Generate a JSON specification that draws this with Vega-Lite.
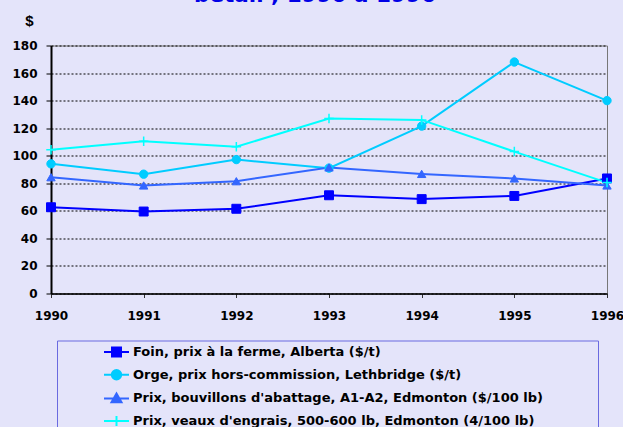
{
  "$schema": "https://vega.github.io/schema/vega-lite/v6.json",
  "width": 556,
  "height": 248,
  "autosize": {"type": "none"},
  "padding": {"left": 51, "top": 45.5, "right": 16, "bottom": 133.5},
  "background": "#E4E4FA",
  "title": {
    "text": "bétail , 1990 à 1996",
    "font": "DejaVu Sans",
    "fontSize": 21.5,
    "fontWeight": "bold",
    "color": "#0000E6",
    "anchor": "middle",
    "frame": "group",
    "dx": -14,
    "offset": 7
  },
  "config": {
    "view": {"stroke": "#777777", "strokeWidth": 1},
    "legend": {
      "orient": "none",
      "legendX": 6,
      "legendY": 295,
      "labelFont": "DejaVu Sans",
      "labelFontWeight": "bold",
      "labelFontSize": 13,
      "labelColor": "#000000",
      "labelLimit": 1000,
      "symbolSize": 100,
      "symbolOffset": 48,
      "labelOffset": 10,
      "padding": 5,
      "rowPadding": 4.7,
      "strokeColor": "#6A6AE0",
      "fillColor": "#E4E4FA"
    }
  },
  "data": {
    "values": [
      {"year": 1990, "series": "Foin, prix à la ferme, Alberta ($/t)", "value": 62.6},
      {"year": 1991, "series": "Foin, prix à la ferme, Alberta ($/t)", "value": 59.5},
      {"year": 1992, "series": "Foin, prix à la ferme, Alberta ($/t)", "value": 61.5},
      {"year": 1993, "series": "Foin, prix à la ferme, Alberta ($/t)", "value": 71.3},
      {"year": 1994, "series": "Foin, prix à la ferme, Alberta ($/t)", "value": 68.5},
      {"year": 1995, "series": "Foin, prix à la ferme, Alberta ($/t)", "value": 70.8},
      {"year": 1996, "series": "Foin, prix à la ferme, Alberta ($/t)", "value": 83.5},
      {"year": 1990, "series": "Orge, prix hors-commission, Lethbridge ($/t)", "value": 94.1},
      {"year": 1991, "series": "Orge, prix hors-commission, Lethbridge ($/t)", "value": 86.6},
      {"year": 1992, "series": "Orge, prix hors-commission, Lethbridge ($/t)", "value": 97.2},
      {"year": 1993, "series": "Orge, prix hors-commission, Lethbridge ($/t)", "value": 91},
      {"year": 1994, "series": "Orge, prix hors-commission, Lethbridge ($/t)", "value": 121.5},
      {"year": 1995, "series": "Orge, prix hors-commission, Lethbridge ($/t)", "value": 168},
      {"year": 1996, "series": "Orge, prix hors-commission, Lethbridge ($/t)", "value": 140},
      {"year": 1990, "series": "Prix, bouvillons d'abattage, A1-A2, Edmonton ($/100 lb)", "value": 84.4},
      {"year": 1991, "series": "Prix, bouvillons d'abattage, A1-A2, Edmonton ($/100 lb)", "value": 78.4},
      {"year": 1992, "series": "Prix, bouvillons d'abattage, A1-A2, Edmonton ($/100 lb)", "value": 81.5},
      {"year": 1993, "series": "Prix, bouvillons d'abattage, A1-A2, Edmonton ($/100 lb)", "value": 91.5},
      {"year": 1994, "series": "Prix, bouvillons d'abattage, A1-A2, Edmonton ($/100 lb)", "value": 86.8},
      {"year": 1995, "series": "Prix, bouvillons d'abattage, A1-A2, Edmonton ($/100 lb)", "value": 83.5},
      {"year": 1996, "series": "Prix, bouvillons d'abattage, A1-A2, Edmonton ($/100 lb)", "value": 78.4},
      {"year": 1990, "series": "Prix, veaux d'engrais, 500-600 lb, Edmonton (4/100 lb)", "value": 104.3},
      {"year": 1991, "series": "Prix, veaux d'engrais, 500-600 lb, Edmonton (4/100 lb)", "value": 110.5},
      {"year": 1992, "series": "Prix, veaux d'engrais, 500-600 lb, Edmonton (4/100 lb)", "value": 106.5},
      {"year": 1993, "series": "Prix, veaux d'engrais, 500-600 lb, Edmonton (4/100 lb)", "value": 127},
      {"year": 1994, "series": "Prix, veaux d'engrais, 500-600 lb, Edmonton (4/100 lb)", "value": 126},
      {"year": 1995, "series": "Prix, veaux d'engrais, 500-600 lb, Edmonton (4/100 lb)", "value": 103},
      {"year": 1996, "series": "Prix, veaux d'engrais, 500-600 lb, Edmonton (4/100 lb)", "value": 80.5}
    ]
  },
  "encoding": {
    "x": {
      "field": "year",
      "type": "quantitative",
      "scale": {"domain": [1990, 1996], "nice": false, "zero": false},
      "axis": {
        "title": null,
        "values": [1990, 1991, 1992, 1993, 1994, 1995, 1996],
        "format": "d",
        "grid": false,
        "domainColor": "#000000",
        "domainWidth": 1.5,
        "tickColor": "#333333",
        "tickSize": 4,
        "labelFont": "DejaVu Sans",
        "labelFontWeight": "bold",
        "labelFontSize": 12,
        "labelColor": "#000000",
        "labelPadding": 13,
        "labelFlush": false,
        "labelOverlap": false
      }
    },
    "y": {
      "field": "value",
      "type": "quantitative",
      "scale": {"domain": [0, 180], "nice": false},
      "axis": {
        "title": "$",
        "titleAngle": 0,
        "titleX": -22,
        "titleY": -25.5,
        "titleAlign": "center",
        "titleBaseline": "middle",
        "titleFont": "Liberation Sans",
        "titleFontSize": 15,
        "titleFontWeight": "bold",
        "titleColor": "#000000",
        "values": [0, 20, 40, 60, 80, 100, 120, 140, 160, 180],
        "grid": true,
        "gridColor": "#000000",
        "gridDash": [2, 2],
        "gridWidth": 1,
        "domainColor": "#000000",
        "domainWidth": 2,
        "tickColor": "#000000",
        "tickSize": 5,
        "labelFont": "DejaVu Sans",
        "labelFontWeight": "bold",
        "labelFontSize": 12,
        "labelColor": "#000000",
        "labelPadding": 9
      }
    }
  },
  "layer": [
    {
      "mark": {"type": "line", "strokeWidth": 2},
      "encoding": {
        "color": {
          "field": "series",
          "type": "nominal",
          "scale": {
            "domain": [
              "Foin, prix à la ferme, Alberta ($/t)",
              "Orge, prix hors-commission, Lethbridge ($/t)",
              "Prix, bouvillons d'abattage, A1-A2, Edmonton ($/100 lb)",
              "Prix, veaux d'engrais, 500-600 lb, Edmonton (4/100 lb)"
            ],
            "range": ["#0000FF", "#00CCFF", "#3366FF", "#00FFFF"]
          },
          "legend": {
            "title": null,
            "encode": {
              "symbols": {
                "update": {
                  "fill": {"scale": "color", "field": "value"},
                  "stroke": {"scale": "color", "field": "value"},
                  "strokeWidth": {"value": 2},
                  "opacity": {"value": 1},
                  "shape": {"signal": "datum.index === 0 ? 'M-2.5,0H2.5M-0.9,-0.9H0.9V0.9H-0.9ZM94.5,0' : datum.index === 1 ? 'M-2.5,0H2.5M0.94,0A0.94,0.94,0,1,1,-0.94,0A0.94,0.94,0,1,1,0.94,0ZM94.5,0' : datum.index === 2 ? 'M-2.5,0H2.5M0,-1L1,0.75H-1ZM94.5,0' : 'M-2.5,0H2.5M0,-1V1M94.5,0'"}
                }
              }
            }
          }
        }
      }
    },
    {
      "transform": [{"filter": {"field": "series", "equal": "Foin, prix à la ferme, Alberta ($/t)"}}],
      "mark": {"type": "point", "shape": "square", "filled": true, "opacity": 1, "size": 80, "fill": "#0000FF", "stroke": "#0000FF", "strokeWidth": 1}
    },
    {
      "transform": [{"filter": {"field": "series", "equal": "Orge, prix hors-commission, Lethbridge ($/t)"}}],
      "mark": {"type": "point", "shape": "circle", "filled": true, "opacity": 1, "size": 70, "fill": "#00CCFF", "stroke": "#00CCFF", "strokeWidth": 1}
    },
    {
      "transform": [{"filter": {"field": "series", "equal": "Prix, bouvillons d'abattage, A1-A2, Edmonton ($/100 lb)"}}],
      "mark": {"type": "point", "shape": "triangle-up", "filled": true, "opacity": 1, "size": 70, "fill": "#3366FF", "stroke": "#3366FF", "strokeWidth": 1}
    },
    {
      "transform": [{"filter": {"field": "series", "equal": "Prix, veaux d'engrais, 500-600 lb, Edmonton (4/100 lb)"}}],
      "mark": {"type": "point", "shape": "M-1,0H1M0,-1V1", "filled": false, "opacity": 1, "size": 90, "stroke": "#00FFFF", "strokeWidth": 1.5}
    }
  ]
}
